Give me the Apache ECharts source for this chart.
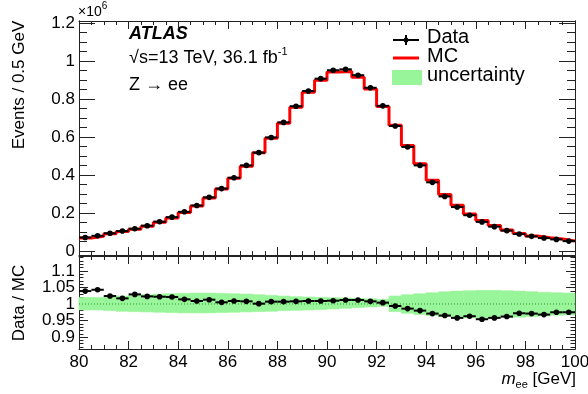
<!DOCTYPE html>
<html>
<head>
<meta charset="utf-8">
<script src="https://cdn.jsdelivr.net/npm/echarts@6/dist/echarts.min.js"></script>
<style>
  html, body { margin: 0; padding: 0; background: #fff; }
  #main { width: 588px; height: 394px; }
</style>
</head>
<body>
<div id="main"></div>
<script>
// m_ee bins, 0.5 GeV wide, low edges
var binLow = [80, 80.5, 81, 81.5, 82, 82.5, 83, 83.5, 84, 84.5,
              85, 85.5, 86, 86.5, 87, 87.5, 88, 88.5, 89, 89.5,
              90, 90.5, 91, 91.5, 92, 92.5, 93, 93.5, 94, 94.5,
              95, 95.5, 96, 96.5, 97, 97.5, 98, 98.5, 99, 99.5]
var binWidth = 0.5

// events per bin, x10^6
var dataCounts = [0.072, 0.081, 0.094, 0.106, 0.118, 0.134, 0.155, 0.179, 0.207, 0.240,
                  0.283, 0.329, 0.386, 0.451, 0.518, 0.598, 0.677, 0.762, 0.842, 0.907,
                  0.951, 0.956, 0.925, 0.859, 0.764, 0.658, 0.548, 0.451, 0.362, 0.288,
                  0.232, 0.189, 0.154, 0.129, 0.108, 0.090, 0.078, 0.069, 0.062, 0.053]
var mcCounts = [0.069, 0.078, 0.092, 0.104, 0.115, 0.131, 0.152, 0.175, 0.204, 0.238,
                0.279, 0.327, 0.383, 0.447, 0.518, 0.594, 0.672, 0.756, 0.835, 0.899,
                0.942, 0.945, 0.914, 0.852, 0.761, 0.662, 0.556, 0.460, 0.373, 0.298,
                0.242, 0.196, 0.161, 0.135, 0.112, 0.093, 0.080, 0.071, 0.064, 0.054]

// Data / MC
var ratio = [1.039, 1.043, 1.024, 1.017, 1.029, 1.023, 1.022, 1.021, 1.014, 1.009,
             1.013, 1.005, 1.009, 1.008, 1.001, 1.007, 1.007, 1.008, 1.009, 1.009,
             1.010, 1.012, 1.012, 1.008, 1.004, 0.994, 0.986, 0.980, 0.971, 0.965,
             0.958, 0.963, 0.954, 0.958, 0.962, 0.972, 0.971, 0.968, 0.975, 0.975]
var bandUp = [1.020, 1.020, 1.022, 1.024, 1.026, 1.028, 1.030, 1.031, 1.032, 1.033,
              1.033, 1.032, 1.031, 1.030, 1.028, 1.026, 1.024, 1.022, 1.021, 1.020,
              1.019, 1.018, 1.017, 1.016, 1.014, 1.024, 1.028, 1.031, 1.034, 1.037,
              1.039, 1.040, 1.041, 1.041, 1.040, 1.039, 1.037, 1.035, 1.034, 1.033]
var bandDown = [0.982, 0.982, 0.980, 0.978, 0.977, 0.976, 0.975, 0.974, 0.973, 0.973,
                0.973, 0.974, 0.975, 0.976, 0.977, 0.978, 0.980, 0.981, 0.982, 0.983,
                0.985, 0.987, 0.989, 0.991, 0.993, 0.977, 0.972, 0.968, 0.965, 0.962,
                0.960, 0.959, 0.958, 0.958, 0.959, 0.960, 0.962, 0.964, 0.966, 0.967]

// tick labels
var topTicks = [0, 0.2, 0.4, 0.6, 0.8, 1, 1.2]
var ratioTicks = [0.9, 0.95, 1, 1.05, 1.1]
// labels of the ratio axis are put on two axes, else echarts drops the crowded ones
var ratioTicksA = [0.9, 1, 1.1]
var ratioTicksB = [0.95, 1.05]

function minorTicks(from, to, step) {
    var out = []
    for (var v = from; v <= to + 1e-9; v += step) out.push(Math.round(v * 1000) / 1000)
    return out
}
var topMinor = minorTicks(0, 1.2, 0.05)
var ratioMinor = minorTicks(0.87, 1.14, 0.01)

var FONT = "'Liberation Sans', Arial, sans-serif"
var FRAME = '#222'

var mcStep = binLow.map(function (x, i) { return [x, mcCounts[i]] })
mcStep.push([binLow[binLow.length - 1] + binWidth, mcCounts[mcCounts.length - 1]])

var topPoints = binLow.map(function (x, i) { return [x, x + binWidth, dataCounts[i]] })
var ratioPoints = binLow.map(function (x, i) { return [x, x + binWidth, ratio[i]] })
var bandRects = binLow.map(function (x, i) { return [x, x + binWidth, bandDown[i], bandUp[i]] })

function renderPoint(params, api) {
    var a = api.coord([api.value(0), api.value(2)])
    var b = api.coord([api.value(1), api.value(2)])
    return {
        type: 'group',
        children: [
            { type: 'line', shape: { x1: a[0], y1: a[1], x2: b[0], y2: b[1] }, style: { stroke: '#000', lineWidth: 2 } },
            { type: 'circle', shape: { cx: (a[0] + b[0]) / 2, cy: a[1], r: 2.8 }, style: { fill: '#000' } }
        ]
    }
}

function renderBand(params, api) {
    var p0 = api.coord([api.value(0), api.value(3)])
    var p1 = api.coord([api.value(1), api.value(2)])
    return {
        type: 'rect',
        shape: { x: p0[0], y: p0[1], width: p1[0] - p0[0], height: p1[1] - p0[1] },
        style: { fill: '#99f599', stroke: '#99f599', lineWidth: 0.6 }
    }
}

function xAxisFor(grid, pos, labels) {
    return {
        type: 'value', gridIndex: grid, position: pos, min: 80, max: 100, interval: 2,
        axisLine: { show: true, onZero: false, lineStyle: { color: FRAME, width: 1 } },
        axisTick: { show: true, inside: true, length: 8, lineStyle: { color: FRAME } },
        minorTick: { show: true, splitNumber: 4, length: 4, lineStyle: { color: FRAME } },
        axisLabel: { show: labels, margin: 5, fontSize: 17, color: '#000', fontFamily: FONT },
        splitLine: { show: false }
    }
}

// several y axes sit on each frame side: major ticks (+labels) and minor ticks
function yAxisFor(grid, pos, min, max, ticks, len, labels) {
    var ax = {
        type: 'value', gridIndex: grid, position: pos, min: min, max: max,
        axisLine: { show: true, onZero: false, lineStyle: { color: FRAME, width: 1 } },
        axisTick: { show: true, inside: true, length: len, customValues: ticks, lineStyle: { color: FRAME } },
        axisLabel: { show: false },
        splitLine: { show: false }
    }
    if (labels) {
        ax.axisLabel = {
            show: true, customValues: labels, margin: 4,
            showMinLabel: true, showMaxLabel: true,
            fontSize: 17, color: '#000', fontFamily: FONT
        }
    }
    return ax
}

var chart = echarts.init(document.getElementById('main'))
chart.setOption({
    animation: false,
    backgroundColor: '#fff',
    grid: [
        { left: 79, right: 13, top: 21, height: 234, outerBoundsMode: 'none' },
        { left: 79, right: 13, top: 256, height: 93, outerBoundsMode: 'none' }
    ],
    xAxis: [
        xAxisFor(0, 'bottom', false),
        xAxisFor(0, 'top', false),
        xAxisFor(1, 'bottom', true),
        xAxisFor(1, 'top', false)
    ],
    yAxis: [
        yAxisFor(0, 'left', -0.02, 1.21, topTicks, 16, topTicks),
        yAxisFor(0, 'left', -0.02, 1.21, topMinor, 8, null),
        yAxisFor(0, 'right', -0.02, 1.21, topTicks, 16, null),
        yAxisFor(0, 'right', -0.02, 1.21, topMinor, 8, null),
        yAxisFor(1, 'left', 0.864, 1.145, ratioTicksA, 9, ratioTicksA),
        yAxisFor(1, 'left', 0.864, 1.145, ratioTicksB, 9, ratioTicksB),
        yAxisFor(1, 'left', 0.864, 1.145, ratioMinor, 4.5, null),
        yAxisFor(1, 'right', 0.864, 1.145, ratioTicks, 9, null),
        yAxisFor(1, 'right', 0.864, 1.145, ratioMinor, 4.5, null)
    ],
    series: [
        {
            name: 'MC', type: 'line', xAxisIndex: 0, yAxisIndex: 0,
            step: 'end', data: mcStep, symbol: 'none',
            lineStyle: { color: '#ff0000', width: 3 }, z: 2
        },
        {
            name: 'Data', type: 'custom', xAxisIndex: 0, yAxisIndex: 0,
            data: topPoints, renderItem: renderPoint, z: 3
        },
        {
            name: 'uncertainty', type: 'custom', xAxisIndex: 2, yAxisIndex: 4,
            data: bandRects, renderItem: renderBand, z: 1
        },
        {
            name: 'unity', type: 'line', xAxisIndex: 2, yAxisIndex: 4,
            data: [[80, 1], [100, 1]], symbol: 'none',
            lineStyle: { color: '#2a9a2a', width: 1, type: [1, 2] }, z: 2
        },
        {
            name: 'ratio', type: 'custom', xAxisIndex: 2, yAxisIndex: 4,
            data: ratioPoints, renderItem: renderPoint, z: 3
        }
    ],
    graphic: [
        // axis titles
        {
            type: 'text', x: 19, y: 85, rotation: Math.PI / 2,
            style: { text: 'Events / 0.5 GeV', font: '17px ' + FONT, fill: '#000', align: 'center', verticalAlign: 'middle' }
        },
        {
            type: 'text', x: 19, y: 303, rotation: Math.PI / 2,
            style: { text: 'Data / MC', font: '17px ' + FONT, fill: '#000', align: 'center', verticalAlign: 'middle' }
        },
        {
            type: 'text', x: 576, y: 379,
            style: {
                text: '{m|m}{sub|ee}{a| [GeV]}', align: 'right', verticalAlign: 'middle', fill: '#000',
                rich: {
                    m: { fontSize: 17, fontStyle: 'italic', fontFamily: FONT, lineHeight: 22, verticalAlign: 'middle' },
                    sub: { fontSize: 11, fontFamily: FONT, lineHeight: 22, verticalAlign: 'bottom' },
                    a: { fontSize: 17, fontFamily: FONT, lineHeight: 22, verticalAlign: 'middle' }
                }
            }
        },
        {
            type: 'text', x: 78, y: 10,
            style: {
                text: '{a|\u00d710}{sup|6}', align: 'left', verticalAlign: 'middle', fill: '#000',
                rich: {
                    a: { fontSize: 14, fontFamily: FONT, lineHeight: 18, verticalAlign: 'bottom' },
                    sup: { fontSize: 10, fontFamily: FONT, lineHeight: 18, verticalAlign: 'top' }
                }
            }
        },
        // ATLAS labels
        {
            type: 'text', x: 129, y: 34,
            style: { text: 'ATLAS', font: 'italic bold 18px ' + FONT, fill: '#000', verticalAlign: 'middle' }
        },
        {
            type: 'text', x: 129, y: 58,
            style: {
                text: '{a|\u221as=13 TeV, 36.1 fb}{sup|-1}', verticalAlign: 'middle', fill: '#000',
                rich: {
                    a: { fontSize: 18, fontFamily: FONT, lineHeight: 24, verticalAlign: 'middle' },
                    sup: { fontSize: 11, fontFamily: FONT, lineHeight: 24, verticalAlign: 'top' }
                }
            }
        },
        {
            type: 'text', x: 129, y: 85,
            style: { text: 'Z \u2192 ee', font: '18px ' + FONT, fill: '#000', verticalAlign: 'middle' }
        },
        // legend
        { type: 'line', shape: { x1: 393, y1: 40, x2: 419, y2: 40 }, style: { stroke: '#000', lineWidth: 2 } },
        { type: 'line', shape: { x1: 406, y1: 35, x2: 406, y2: 45 }, style: { stroke: '#000', lineWidth: 2 } },
        { type: 'circle', shape: { cx: 406, cy: 40, r: 2.5 }, style: { fill: '#000' } },
        {
            type: 'text', x: 427, y: 37,
            style: { text: 'Data', font: '20px ' + FONT, fill: '#000', verticalAlign: 'middle' }
        },
        { type: 'line', shape: { x1: 393, y1: 58, x2: 419, y2: 58 }, style: { stroke: '#ff0000', lineWidth: 3 } },
        {
            type: 'text', x: 427, y: 56,
            style: { text: 'MC', font: '20px ' + FONT, fill: '#000', verticalAlign: 'middle' }
        },
        { type: 'rect', shape: { x: 392, y: 70, width: 30, height: 15 }, style: { fill: '#99f599' } },
        {
            type: 'text', x: 427, y: 75,
            style: { text: 'uncertainty', font: '20px ' + FONT, fill: '#000', verticalAlign: 'middle' }
        }
    ]
})
</script>
</body>
</html>
